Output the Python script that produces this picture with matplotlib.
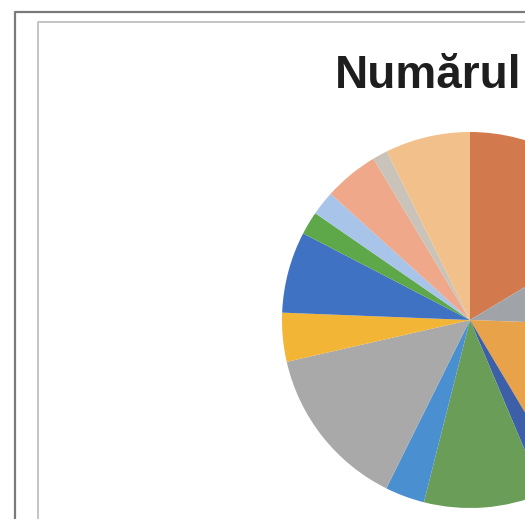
import matplotlib
matplotlib.use('Agg')
import matplotlib.pyplot as plt
from matplotlib.lines import Line2D

W, H = 525, 519

# Slice shares (clockwise from 12 o'clock)
shares = [16.4, 9.2, 15.9, 2.2, 10.3, 3.4, 14.1, 4.2, 7.0, 2.0, 2.1, 4.7, 1.3, 7.3]
colors = ['#D27A4E', '#A0A4A8', '#E8A24A', '#3D5FA8', '#6A9E58', '#4A90D0',
          '#A9A9A9', '#F2B535', '#3F72C2', '#5EA84A', '#A8C4E8', '#EFA88A',
          '#C9C3B9', '#F2C08A']
title = 'Numărul'

fig = plt.figure(figsize=(W / 100, H / 100), dpi=100)
fig.patch.set_facecolor('white')


def px(x, y):
    return x / W, 1 - y / H


# chart frames (outer dark, inner light)
x0, y0 = px(15, 12)
fig.add_artist(Line2D([x0, x0, 1.2], [-0.2, y0, y0], color='#7A7A7A', lw=1.6,
                      transform=fig.transFigure))
x1, y1 = px(38, 22)
fig.add_artist(Line2D([x1, x1, 1.2], [-0.2, y1, y1], color='#C4C4C4', lw=1.4,
                      transform=fig.transFigure))

# pie: centre (470, 320) px, radius 188 px
cx, cy, r = 470, 320, 188
ax = fig.add_axes([(cx - r) / W, (H - cy - r) / H, 2 * r / W, 2 * r / H])
ax.pie(shares, colors=colors, startangle=90, counterclock=False,
       wedgeprops=dict(linewidth=0))
ax.set_xlim(-1, 1)
ax.set_ylim(-1, 1)
ax.axis('off')

tx, ty = px(335, 88)
fig.text(tx, ty, title, ha='left', va='baseline', fontsize=33,
         fontweight='bold', family='Liberation Sans', color='#1E1E1E')

fig.savefig('out.png', dpi=100, facecolor='white')
